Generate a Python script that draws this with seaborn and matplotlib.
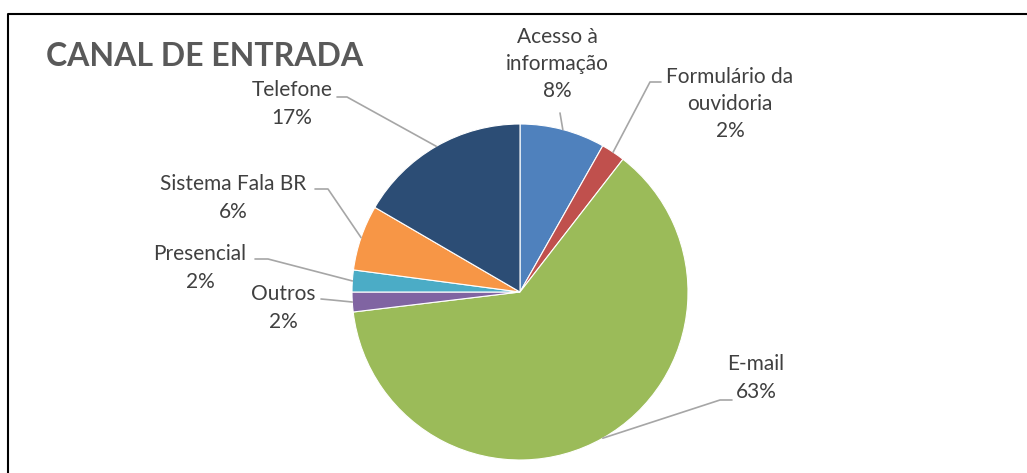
import numpy as np
import seaborn as sns
import matplotlib.pyplot as plt

# Données
canais = ['Acesso à\ninformação', 'Formulário da\nouvidoria', 'E-mail', 'Outros',
          'Presencial', 'Sistema Fala BR', 'Telefone']
valores = [8.2, 2.3, 62.6, 1.9, 2.1, 6.3, 16.6]
cores = ['#4F81BD', '#C0504D', '#9BBB59', '#8064A2', '#4BACC6', '#F79646', '#2C4D75']

# Position des étiquettes (pixels, origine en haut à gauche)
W, H = 1027, 473
centre = (520, 292)
rayon = 168
pos_texte = [(557, 64), (730, 104), (756, 378), (283, 308), (200, 268), (233, 198), (292, 104)]
coude = [(560, 113), (650, 82), (720, 400), (332, 300), (268, 259), (328, 189), (347, 97)]
fin = [(560, 113), (661, 82), (732, 400), (321, 299), (255, 259), (315, 189), (337, 97)]

sns.set_theme(style="white")
plt.rcParams['font.family'] = ['Lato', 'DejaVu Sans']

fig = plt.figure(figsize=(W / 100, H / 100), dpi=100)
ax = fig.add_axes([0, 0, 1, 1])

wedges, _ = ax.pie(valores, colors=cores, startangle=90, counterclock=False,
                   center=(centre[0], H - centre[1]), radius=rayon, frame=True,
                   wedgeprops=dict(edgecolor='white', linewidth=0.8))

for w, nom, v, (tx, ty), (cx, cy), (fx, fy) in zip(wedges, canais, valores, pos_texte, coude, fin):
    ang = np.deg2rad((w.theta1 + w.theta2) / 2)
    px = centre[0] + rayon * np.cos(ang)
    py = H - centre[1] + rayon * np.sin(ang)
    ax.plot([px, cx, fx], [py, H - cy, H - fy], color='#A6A6A6', lw=1.2, zorder=1)
    ax.text(tx, H - ty, f"{nom}\n{v:.0f}%", ha='center', va='center',
            fontsize=15, color='#404040', linespacing=1.45)

ax.text(46, H - 57, 'CANAL DE ENTRADA', ha='left', va='center', fontsize=23,
        fontweight='bold', color='#595959')

# Cadre
ax.plot([8, 8, W], [0, H - 14, H - 14], color='black', lw=1.5)

ax.set_xlim(0, W)
ax.set_ylim(0, H)
ax.set_aspect('equal')
ax.axis('off')

plt.savefig('out.png', dpi=100)
